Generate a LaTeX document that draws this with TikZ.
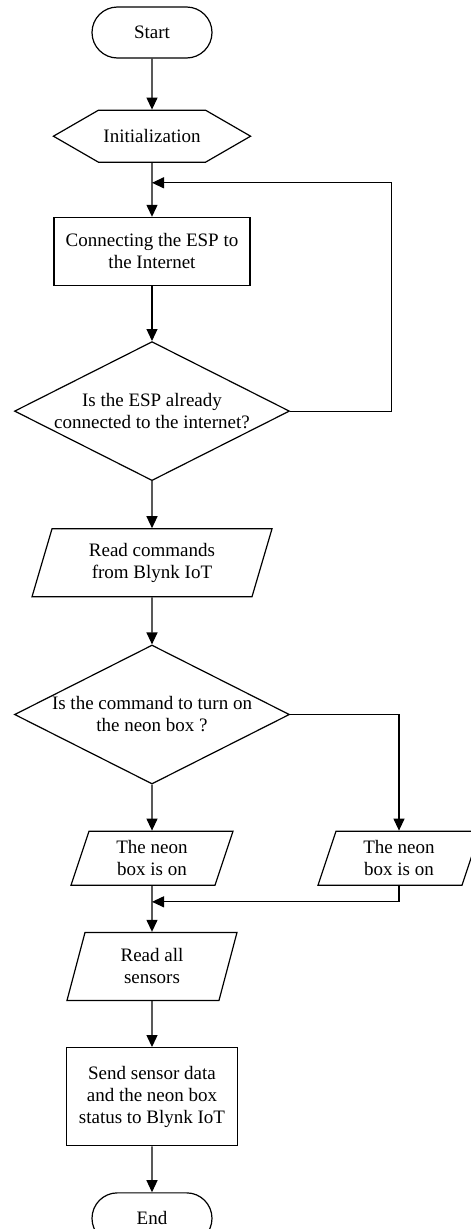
\documentclass[tikz,border=0pt]{standalone}
\usepackage{fontspec}
\setmainfont{Liberation Serif}
\usepackage{tikz}
\usetikzlibrary{arrows.meta,positioning,shapes.geometric,shapes.misc,shapes.symbols}

\begin{document}
\begin{tikzpicture}[->,>={Triangle[length=12pt,width=11pt]},line width=1.2pt,node distance=46pt,
  font=\fontsize{19pt}{22pt}\selectfont]
  \tikzstyle{every node}=[draw,align=center,inner sep=0pt,line width=1.2pt]
  \tikzstyle{term}=[rounded rectangle,minimum width=120pt,minimum height=51pt]
  \tikzstyle{prep}=[signal,signal to=west and east,signal pointer angle=60,inner xsep=5pt,inner ysep=17pt,minimum height=52pt]
  \tikzstyle{proc}=[rectangle,minimum width=196pt,minimum height=68pt]
  \tikzstyle{dec}=[diamond,shape aspect=2,minimum width=275pt,minimum height=139pt]
  \tikzstyle{io}=[trapezium,trapezium left angle=63,trapezium right angle=117,trapezium stretches body]

  \useasboundingbox (0,0) rectangle (471pt,-1229pt);

  \node[term] 			(start)	at (152pt,-32.5pt)	{Start};
  \node[prep]			(init)	[below=51pt of start]	{Initialization};
  \node[proc]			(conn)	[below=54pt of init]	{Connecting the ESP to\\the Internet};
  \node[dec]			(chk)	[below=55pt of conn]	{Is the ESP already\\connected to the internet?};
  \node[io,minimum width=240pt,minimum height=68pt]	(cmds)	[below=47pt of chk]	{Read commands\\from Blynk IoT};
  \node[dec]			(cmd)	[below=47pt of cmds]	{Is the command to turn on\\the neon box ?};
  \node[io,minimum width=162pt,minimum height=54pt]	(onA)	[below=46pt of cmd]	{The neon\\box is on};
  \node[io,minimum width=162pt,minimum height=54pt]	(onB)	at ([xshift=247pt]onA)	{The neon\\box is on};
  \node[io,minimum width=170pt,minimum height=68pt]	(sens)	[below=46pt of onA]	{Read all\\sensors};
  \node[proc,minimum width=171pt,minimum height=98pt]	(send)	[below=46pt of sens]	{Send sensor data\\and the neon box\\status to Blynk IoT};
  \node[term]			(end)	[below=46pt of send]	{End};

  \coordinate (back) at ([yshift=-20pt]init.south);
  \coordinate (merge) at ([yshift=-16pt]onA.south);

  \draw (start) -- (init);
  \draw (init) -- (conn);
  \draw (conn) -- (chk);
  \draw (chk.east) -- ++(101pt,0) |- (back);
  \draw (chk) -- (cmds);
  \draw (cmds) -- (cmd);
  \draw (cmd) -- (onA);
  \draw (cmd.east) -| (onB);
  \draw (onB.south) |- (merge);
  \draw (onA) -- (sens);
  \draw (sens) -- (send);
  \draw (send) -- (end);

\end{tikzpicture}
\end{document}
